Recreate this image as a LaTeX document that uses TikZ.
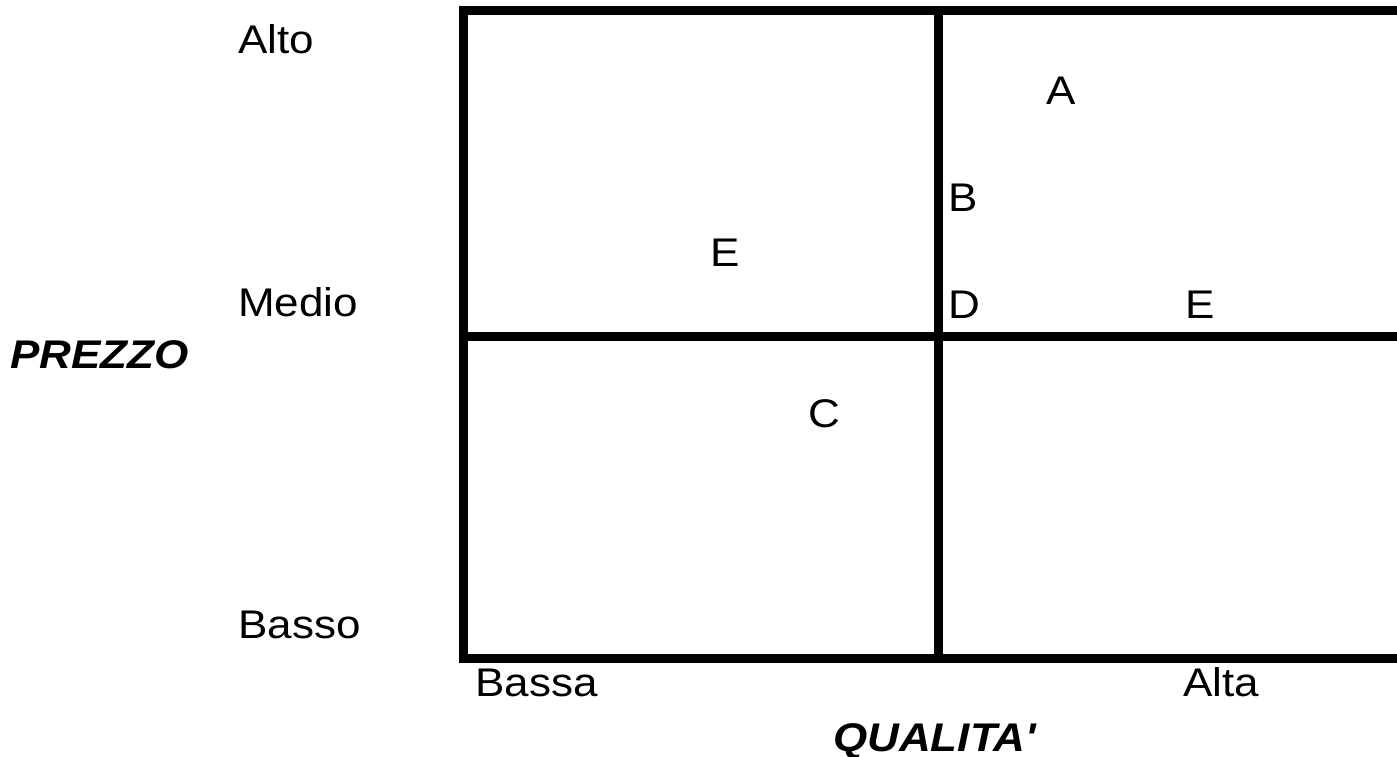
\documentclass[tikz,border=0pt]{standalone}
\usepackage{fontspec}
\newfontfamily\labelfont{Liberation Sans}[FakeStretch=1.1]
\begin{document}
\begin{tikzpicture}[x=1pt,y=-1pt,
  grid/.style={line width=9pt, line join=miter, line cap=butt},
  lbl/.style={anchor=base west, inner sep=0pt, font=\labelfont\fontsize{40}{48}\selectfont},
  axis/.style={lbl, font=\labelfont\fontsize{40}{48}\selectfont\bfseries\itshape}]
\useasboundingbox[fill=white] (0,0) rectangle (1397,757);
\coordinate (TL) at (463.5,10.5);
\coordinate (TR) at (1402,10.5);
\coordinate (BL) at (463.5,658);
\coordinate (BR) at (1402,658);
\coordinate (ML) at (463.5,336);
\coordinate (MR) at (1402,336);
\coordinate (MT) at (938,10.5);
\coordinate (MB) at (938,658);
\draw[grid] (TR) -- (TL) -- (BL) -- (BR);
\draw[grid] (ML) -- (MR);
\draw[grid] (MT) -- (MB);
\node[lbl] (alto) at (238,54) {Alto};
\node[lbl] (medio) at (238,316) {Medio};
\node[lbl] (basso) at (238,638) {Basso};
\node[axis] (prezzo) at (10,368) {PREZZO};
\node[lbl] (bassa) at (475,696) {Bassa};
\node[lbl] (alta) at (1183,696) {Alta};
\node[axis] (qualita) at (833,751) {QUALITA'};
\node[lbl] (a) at (1046,105) {A};
\node[lbl] (b) at (948,211) {B};
\node[lbl] (d) at (948,318) {D};
\node[lbl] (e2) at (1185,318) {E};
\node[lbl] (e1) at (710,266) {E};
\node[lbl] (c) at (808,427) {C};
\end{tikzpicture}
\end{document}
